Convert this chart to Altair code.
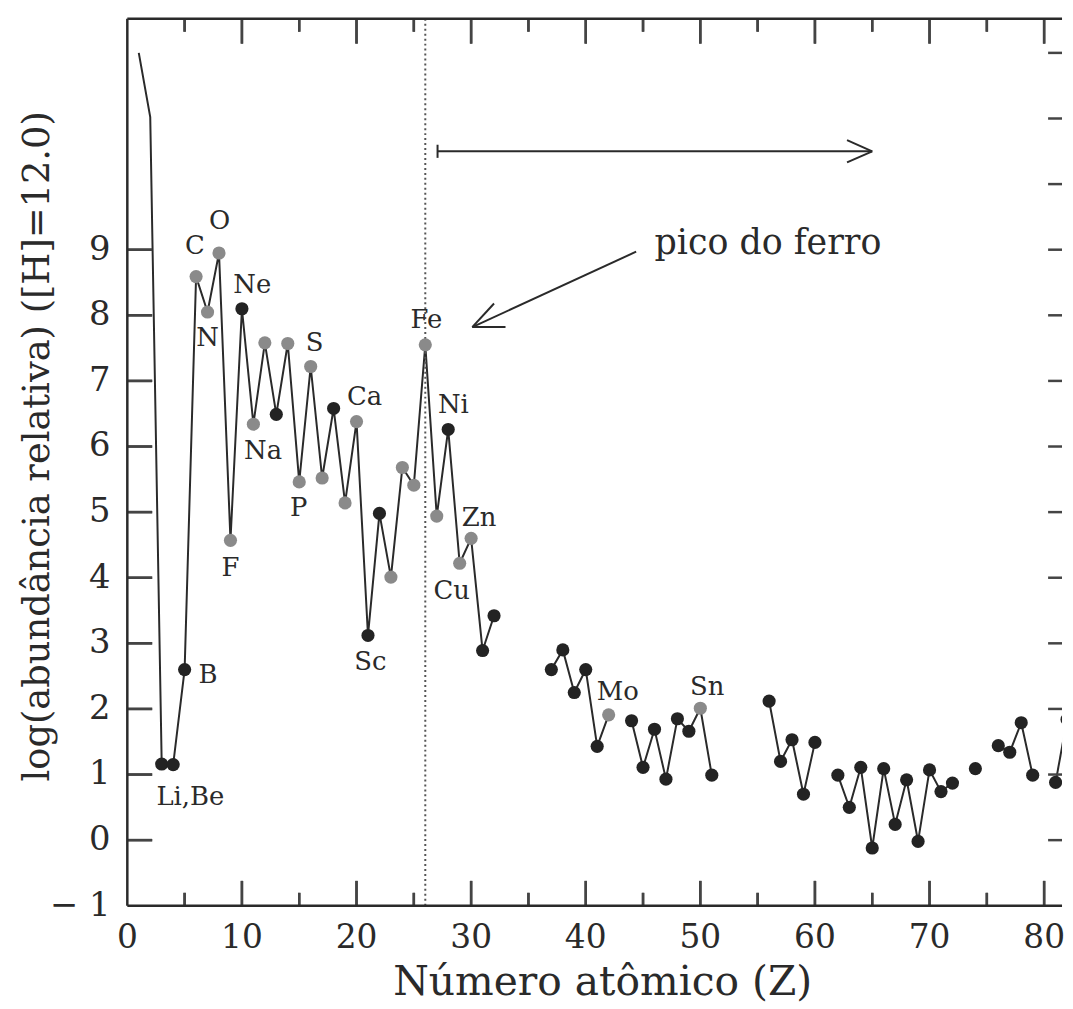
import altair as alt
import pandas as pd

# ---- data ----
Z = [1, 2, 3, 4, 5, 6, 7, 8, 9, 10, 11, 12, 13, 14, 15, 16, 17, 18, 19, 20,
     21, 22, 23, 24, 25, 26, 27, 28, 29, 30, 31, 32,
     37, 38, 39, 40, 41, 42,
     44, 45, 46, 47, 48, 49, 50, 51,
     56, 57, 58, 59, 60,
     62, 63, 64, 65, 66, 67, 68, 69, 70, 71, 72,
     74,
     76, 77, 78, 79,
     81, 82]
logA = [12.00, 11.02, 1.16, 1.15, 2.60, 8.59, 8.05, 8.95, 4.57, 8.10, 6.34, 7.58, 6.49, 7.57, 5.46, 7.22, 5.52, 6.58, 5.14, 6.38,
        3.12, 4.98, 4.01, 5.68, 5.41, 7.55, 4.94, 6.26, 4.22, 4.60, 2.89, 3.42,
        2.60, 2.90, 2.25, 2.60, 1.43, 1.91,
        1.82, 1.11, 1.69, 0.93, 1.85, 1.66, 2.01, 0.99,
        2.12, 1.20, 1.53, 0.70, 1.49,
        0.99, 0.50, 1.11, -0.12, 1.09, 0.24, 0.92, -0.02, 1.07, 0.74, 0.87,
        1.09,
        1.44, 1.34, 1.79, 0.99,
        0.88, 1.84]
segment = [1] * 32 + [2] * 6 + [3] * 8 + [4] * 5 + [5] * 11 + [6] + [7] * 4 + [8] * 2
no_marker = [1, 2]
gray_z = [6, 7, 8, 9, 11, 12, 14, 15, 16, 17, 19, 20, 23, 24, 25, 26, 27, 29, 30, 42, 50]

label_text = ["C", "O", "Ne", "N", "S", "Fe", "Ca", "Na", "Ni", "P", "Zn", "F", "Cu", "Sc", "B", "Li,Be", "Mo", "Sn"]
label_x = [5.9, 8.05, 10.9, 7.0, 16.35, 26.1, 20.7, 11.85, 28.45, 14.95, 30.7, 9.0, 28.3, 21.2, 7.05, 5.5, 42.8, 50.6]
label_y = [9.05, 9.44, 8.46, 7.66, 7.58, 7.93, 6.76, 5.93, 6.63, 5.06, 4.91, 4.15, 3.8, 2.72, 2.51, 0.65, 2.25, 2.33]

x_major = [10, 20, 30, 40, 50, 60, 70, 80]
x_minor = [5, 15, 25, 35, 45, 55, 65, 75]
x_labels = [0, 10, 20, 30, 40, 50, 60, 70, 80]
y_labels = [-1, 0, 1, 2, 3, 4, 5, 6, 7, 8, 9]
y_left_ticks = [0, 1, 2, 3, 4, 5, 6, 7, 8, 9]
y_right_ticks = [0, 1, 2, 3, 4, 5, 6, 7, 8, 9, 10, 11, 12]
x_title = ["Número atômico (Z)"]
y_title = ["log(abundância relativa) ([H]=12.0)"]

fe_z = [26]

# annotation segments (data units): horizontal arrow and "pico do ferro" arrow
arr_x = [27.07, 65.0, 65.0, 27.07, 44.4, 30.1, 30.1]
arr_y = [10.5, 10.5, 10.5, 10.6, 8.97, 7.82, 7.82]
arr_x2 = [65.0, 62.8, 62.8, 27.07, 30.1, 32.0, 33.0]
arr_y2 = [10.5, 10.67, 10.33, 10.4, 7.82, 8.18, 7.82]
note_text = ["pico do ferro"]
note_x = [46.0]
note_y = [9.1]

# ---- layout / style ----
W, H = 940, 892
FONT = "DejaVu Serif"
INK = "#2a2a2a"

# ---- tables ----
grp = ["none" if z in no_marker else ("gray" if z in gray_z else "black") for z in Z]
df = pd.DataFrame({"Z": Z, "v": logA, "seg": segment, "grp": grp})
df_lab = pd.DataFrame({"x": label_x, "y": label_y, "t": label_text})
df_arr = pd.DataFrame({"x": arr_x, "y": arr_y, "x2": arr_x2, "y2": arr_y2})
df_note = pd.DataFrame({"x": note_x, "y": note_y, "t": note_text})
df_xl = pd.DataFrame({"zl": x_labels, "t": [str(t) for t in x_labels]})
df_yl = pd.DataFrame({"vl": y_labels, "t": [("\u2212 " + str(-t)) if t < 0 else str(t) for t in y_labels]})

xs = alt.Scale(domain=[0, 81.56], nice=False, zero=False)
ys = alt.Scale(domain=[-1, 12.52], nice=False, zero=False)

line = alt.Chart(df).mark_line(color=INK, strokeWidth=2, clip=True).encode(
    x=alt.X("Z:Q", scale=xs, axis=None),
    y=alt.Y("v:Q", scale=ys, axis=None),
    detail="seg:N",
    order="Z:Q",
)

pts = alt.Chart(df).transform_filter("datum.grp != 'none'").mark_circle(size=175, opacity=1, clip=True).encode(
    x=alt.X("Z:Q", scale=xs, axis=None),
    y=alt.Y("v:Q", scale=ys, axis=None),
    color=alt.Color("grp:N", scale=alt.Scale(domain=["gray", "black"], range=["#8a8a8a", "#232323"]), legend=None),
)

labels = alt.Chart(df_lab).mark_text(font=FONT, fontSize=26, color=INK, baseline="middle", align="center").encode(
    x=alt.X("x:Q", scale=xs, axis=None),
    y=alt.Y("y:Q", scale=ys, axis=None),
    text="t:N",
)

arrows = alt.Chart(df_arr).mark_rule(color=INK, strokeWidth=2).encode(
    x=alt.X("x:Q", scale=xs, axis=None),
    y=alt.Y("y:Q", scale=ys, axis=None),
    x2="x2:Q",
    y2="y2:Q",
)

note = alt.Chart(df_note).mark_text(font=FONT, fontSize=35, color=INK, align="left", baseline="middle").encode(
    x=alt.X("x:Q", scale=xs, axis=None),
    y=alt.Y("y:Q", scale=ys, axis=None),
    text="t:N",
)

fe_line = alt.Chart(pd.DataFrame({"z": fe_z})).mark_rule(color="#555", strokeWidth=2, strokeDash=[2, 3]).encode(
    x=alt.X("z:Q", scale=xs, axis=None),
    y=alt.value(0),
    y2=alt.value(H),
)


def xtick_layer(vals, y0, y1):
    return alt.Chart(pd.DataFrame({"z": vals})).mark_rule(color="#444", strokeWidth=2.5).encode(
        x=alt.X("z:Q", scale=xs, axis=None), y=alt.value(y0), y2=alt.value(y1))


def ytick_layer(vals, x0, x1):
    return alt.Chart(pd.DataFrame({"v": vals})).mark_rule(color="#444", strokeWidth=2.5).encode(
        y=alt.Y("v:Q", scale=ys, axis=None), x=alt.value(x0), x2=alt.value(x1))


def xtick_mark(vals, yc, length):
    return alt.Chart(pd.DataFrame({"zt": vals})).mark_tick(color="#444", size=length, thickness=2.5, opacity=1).encode(
        x=alt.X("zt:Q", scale=xs, axis=None), y=alt.value(yc))


def ytick_mark(vals, xc, length):
    return alt.Chart(pd.DataFrame({"vt": vals})).mark_tick(color="#444", size=length, thickness=2.5, opacity=1).encode(
        y=alt.Y("vt:Q", scale=ys, axis=None), x=alt.value(xc))


ticks = [
    xtick_layer(x_major, H, H - 25),
    xtick_layer(x_minor, H, H - 13),
    xtick_layer(x_major, 0, 25),
    xtick_layer(x_minor, 0, 13),
    ytick_layer(y_left_ticks, 0, 25),
    ytick_layer(y_right_ticks, W, W - 14),
    xtick_mark(x_major, H - 12.5, 25),
    xtick_mark(x_minor, H - 6.5, 13),
    xtick_mark(x_major, 12.5, 25),
    xtick_mark(x_minor, 6.5, 13),
    ytick_mark(y_left_ticks, 12.5, 25),
]

top_frame = alt.Chart(pd.DataFrame({"a": [0]})).mark_rule(color=INK, strokeWidth=2.5).encode(
    x=alt.value(0), x2=alt.value(W), y=alt.value(0))
bottom_frame = alt.Chart(pd.DataFrame({"a": [1]})).mark_rule(color=INK, strokeWidth=2.5).encode(
    x=alt.value(0), x2=alt.value(W), y=alt.value(H))
left_frame = alt.Chart(pd.DataFrame({"a": [2]})).mark_rule(color=INK, strokeWidth=2.5).encode(
    x=alt.value(0), y=alt.value(0), y2=alt.value(H))

# axis labels and titles as text marks
xlab = alt.Chart(df_xl).mark_text(font=FONT, fontSize=33, color=INK, align="center", baseline="middle").encode(
    x=alt.X("zl:Q", scale=xs, axis=None), y=alt.value(H + 32), text="t:N")
ylab = alt.Chart(df_yl).mark_text(font=FONT, fontSize=34, color=INK, align="right", baseline="middle").encode(
    y=alt.Y("vl:Q", scale=ys, axis=None), x=alt.value(-17), text="t:N")
xtitle = alt.Chart(pd.DataFrame({"t": x_title})).mark_text(
    font=FONT, fontSize=41, color=INK, align="center", baseline="middle").encode(
    x=alt.value(478), y=alt.value(H + 78), text="t:N")
ytitle = alt.Chart(pd.DataFrame({"t": y_title})).mark_text(
    font=FONT, fontSize=37, color=INK, align="center", baseline="middle", angle=270).encode(
    x=alt.value(-90), y=alt.value(430), text="t:N")

chart = alt.layer(line, fe_line, arrows, *ticks, top_frame, bottom_frame, left_frame, pts, labels, note,
                  xlab, ylab, xtitle, ytitle).properties(
    width=W, height=H,
    autosize=alt.AutoSizeParams(type="none"),
    padding={"left": 120, "top": 8, "right": 3, "bottom": 100},
    background="white",
).configure_view(stroke=None)

chart.save("out.html", embed_options={"renderer": "svg", "actions": False})
